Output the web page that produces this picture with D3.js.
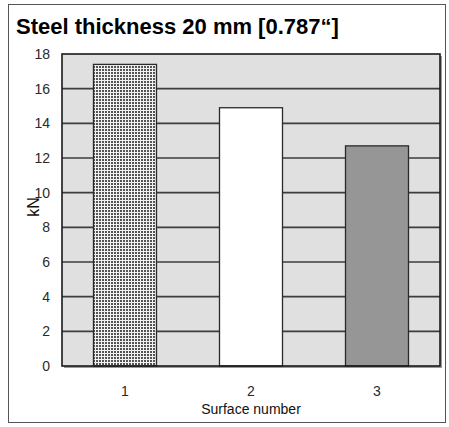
<!DOCTYPE html>
<html>
<head>
<meta charset="utf-8">
<script src="https://cdn.jsdelivr.net/npm/d3@7"></script>
<style>
  html, body { margin: 0; padding: 0; background: #fff; }
  svg { display: block; }
</style>
</head>
<body>
<svg id="chart" width="449" height="427"></svg>
<script>
// Pull-out force per surface preparation, 20 mm steel plate
const categories = ["1", "2", "3"];
const values = [17.4, 14.9, 12.7];
const yTicks = [0, 2, 4, 6, 8, 10, 12, 14, 16, 18];
const fills = ["url(#dots)", "#ffffff", "#969696"];

const svg = d3.select("#chart");
const plot = { left: 62, right: 440, top: 54, bottom: 366 };
const font = "Liberation Sans, Arial, sans-serif";

// dotted fill used for surface 1
const defs = svg.append("defs");
const pat = defs.append("pattern")
  .attr("id", "dots")
  .attr("patternUnits", "userSpaceOnUse")
  .attr("width", 3).attr("height", 3);
pat.append("rect").attr("width", 3).attr("height", 3).attr("fill", "#f2f2f2");
pat.append("rect").attr("width", 2).attr("height", 2).attr("fill", "#555");

// frame around the whole figure
svg.append("rect")
  .attr("x", 8.5).attr("y", 4.5)
  .attr("width", 437).attr("height", 418)
  .attr("fill", "#fff")
  .attr("stroke", "#555").attr("stroke-width", 1);

svg.append("text")
  .attr("x", 16).attr("y", 34)
  .attr("font-family", font)
  .attr("font-weight", "bold")
  .attr("font-size", 22)
  .attr("fill", "#000")
  .text("Steel thickness 20 mm [0.787\u201C]");

const x = d3.scaleBand()
  .domain(categories)
  .range([plot.left, plot.right])
  .paddingInner(0.5).paddingOuter(0.25);

const y = d3.scaleLinear()
  .domain([0, 18])
  .range([plot.bottom, plot.top]);

// plot background with a light drop shadow on the right
svg.append("rect")
  .attr("x", plot.left + 2).attr("y", plot.top + 2)
  .attr("width", plot.right - plot.left).attr("height", plot.bottom - plot.top)
  .attr("fill", "#9a9a9a");
svg.append("rect")
  .attr("x", plot.left).attr("y", plot.top)
  .attr("width", plot.right - plot.left).attr("height", plot.bottom - plot.top)
  .attr("fill", "#e0e0e0");

// horizontal gridlines
svg.append("g")
  .selectAll("line")
  .data(yTicks.filter(d => d > 0 && d < 18))
  .join("line")
  .attr("x1", plot.left).attr("x2", plot.right)
  .attr("y1", d => y(d)).attr("y2", d => y(d))
  .attr("stroke", "#3c3c3c").attr("stroke-width", 1.6);

// bars
svg.append("g")
  .selectAll("rect")
  .data(values)
  .join("rect")
  .attr("x", (d, i) => x(categories[i]))
  .attr("y", d => y(d))
  .attr("width", x.bandwidth())
  .attr("height", d => y(0) - y(d))
  .attr("fill", (d, i) => fills[i])
  .attr("stroke", "#2a2a2a").attr("stroke-width", 1.3);

// plot border
svg.append("rect")
  .attr("x", plot.left).attr("y", plot.top)
  .attr("width", plot.right - plot.left).attr("height", plot.bottom - plot.top)
  .attr("fill", "none")
  .attr("stroke", "#1a1a1a").attr("stroke-width", 1.6);

// y axis labels
const yAxis = d3.axisLeft(y).tickValues(yTicks).tickSize(0).tickPadding(12);
const gy = svg.append("g")
  .attr("transform", `translate(${plot.left},0)`)
  .call(yAxis);
gy.select(".domain").remove();
gy.selectAll("text")
  .attr("font-family", font)
  .attr("font-size", 14)
  .attr("fill", "#2a2a2a");

// x axis labels
const xAxis = d3.axisBottom(x).tickSize(0).tickPadding(20);
const gx = svg.append("g")
  .attr("transform", `translate(0,${plot.bottom})`)
  .call(xAxis);
gx.select(".domain").remove();
gx.selectAll("text")
  .attr("font-family", font)
  .attr("font-size", 14)
  .attr("fill", "#2a2a2a");

svg.append("text")
  .attr("transform", "translate(39,207) rotate(-90)")
  .attr("text-anchor", "middle")
  .attr("font-family", font)
  .attr("font-size", 16)
  .attr("fill", "#111")
  .text("kN");

svg.append("text")
  .attr("x", (plot.left + plot.right) / 2)
  .attr("y", 414)
  .attr("text-anchor", "middle")
  .attr("font-family", font)
  .attr("font-size", 14)
  .attr("fill", "#111")
  .text("Surface number");
</script>
</body>
</html>
